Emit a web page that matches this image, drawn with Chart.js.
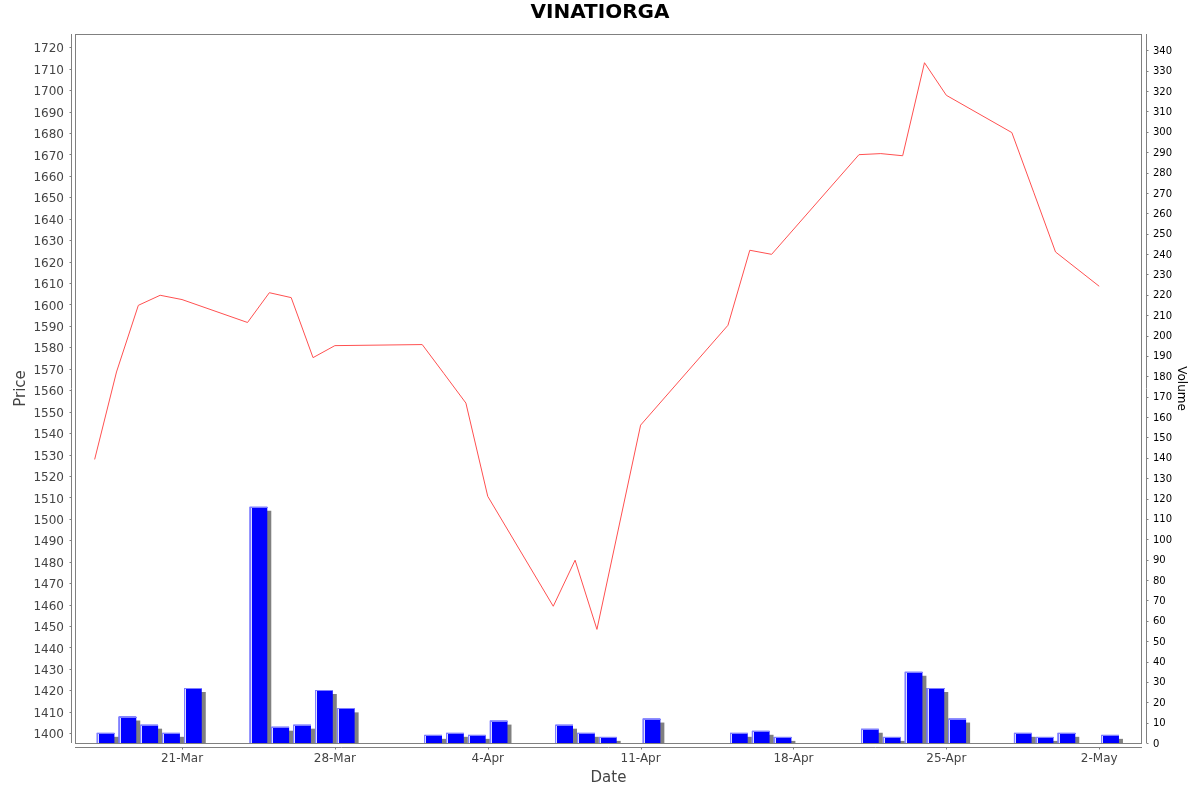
<!DOCTYPE html>
<html>
<head>
<meta charset="utf-8">
<title>VINATIORGA</title>
<script src="https://cdn.jsdelivr.net/npm/chart.js@4.4.1/dist/chart.umd.min.js"></script>
<style>
  html, body { margin: 0; padding: 0; background: #fff; }
  #wrap { width: 1200px; height: 792px; }
</style>
</head>
<body>
<div id="wrap"><canvas id="myChart" width="1200" height="792"></canvas></div>
<script>
// trading days
const dates = [
    '2025-03-17', '2025-03-18', '2025-03-19', '2025-03-20', '2025-03-21',
    '2025-03-24', '2025-03-25', '2025-03-26', '2025-03-27', '2025-03-28',
    '2025-04-01', '2025-04-02', '2025-04-03', '2025-04-04',
    '2025-04-07', '2025-04-08', '2025-04-09', '2025-04-11',
    '2025-04-15', '2025-04-16', '2025-04-17',
    '2025-04-21', '2025-04-22', '2025-04-23', '2025-04-24', '2025-04-25',
    '2025-04-28', '2025-04-29', '2025-04-30', '2025-05-02'
];

// closing price
const prices = [
    1527.7, 1568.5, 1599.6, 1604.3, 1602.3,
    1591.6, 1605.5, 1603.2, 1575.2, 1580.8,
    1581.3, 1567.7, 1554.0, 1510.5,
    1459.2, 1480.7, 1448.4, 1543.7,
    1590.3, 1625.3, 1623.4,
    1669.9, 1670.4, 1669.4, 1712.8, 1697.6,
    1680.2, 1652.4, 1624.5, 1608.5
];

// volume
const volumes = [
    5, 13, 9, 5, 27,
    116, 8, 9, 26, 17,
    4, 5, 4, 11,
    9, 5, 3, 12,
    5, 6, 3,
    7, 3, 35, 27, 12,
    5, 3, 5, 4
];

const tickDates = ['2025-03-21', '2025-03-28', '2025-04-04', '2025-04-11', '2025-04-18', '2025-04-25', '2025-05-02'];
const tickLabels = ['21-Mar', '28-Mar', '4-Apr', '11-Apr', '18-Apr', '25-Apr', '2-May'];

function dayNum(s) {
    return Date.parse(s + 'T00:00:00Z') / 86400000;
}

const AXIS_GRAY = '#808080';

// sombra, brilho das barras e eixos deslocados
const framePlugin = {
    id: 'frame',
    beforeDatasetDraw(chart, args) {
        if (args.meta.type !== 'bar') return;
        const ctx = chart.ctx;
        ctx.save();
        ctx.shadowColor = AXIS_GRAY;
        ctx.shadowOffsetX = 4;
        ctx.shadowOffsetY = 4;
        ctx.shadowBlur = 0;
    },
    afterDatasetDraw(chart, args) {
        if (args.meta.type !== 'bar') return;
        const ctx = chart.ctx;
        ctx.restore();
        ctx.save();
        args.meta.data.forEach(bar => {
            const p = bar.getProps(['x', 'y', 'base', 'width'], true);
            const left = Math.round(p.x - p.width / 2);
            const top = Math.round(p.y);
            const h = p.base - top;
            ctx.fillStyle = '#7f7fff';
            ctx.fillRect(left, top, 1, h);
            ctx.fillRect(left, top, Math.round(p.width), 1);
            ctx.fillStyle = '#dcdcff';
            ctx.fillRect(left + 1, top + 1, 1, h - 1);
        });
        ctx.restore();
    },
    afterDraw(chart) {
        const ctx = chart.ctx;
        const ca = chart.chartArea;
        ctx.save();
        ctx.strokeStyle = AXIS_GRAY;
        ctx.lineWidth = 1;

        ctx.strokeRect(ca.left + 0.5, ca.top + 0.5, ca.right - ca.left - 1, ca.bottom - ca.top);

        const lx = ca.left - 4 + 0.5;
        const rx = ca.right + 4 + 0.5;
        const by = ca.bottom + 4 + 0.5;

        ctx.beginPath();
        ctx.moveTo(lx, ca.top);
        ctx.lineTo(lx, ca.bottom);
        ctx.moveTo(rx, ca.top);
        ctx.lineTo(rx, ca.bottom);
        ctx.moveTo(ca.left, by);
        ctx.lineTo(ca.right, by);

        const y = chart.scales.y;
        y.ticks.forEach(t => {
            const py = Math.round(y.getPixelForValue(t.value)) + 0.5;
            ctx.moveTo(lx - 2, py);
            ctx.lineTo(lx, py);
        });
        const y1 = chart.scales.y1;
        y1.ticks.forEach(t => {
            const py = Math.round(y1.getPixelForValue(t.value)) + 0.5;
            ctx.moveTo(rx, py);
            ctx.lineTo(rx + 2, py);
        });
        const x = chart.scales.x;
        x.ticks.forEach(t => {
            const px = Math.round(x.getPixelForValue(t.value)) + 0.5;
            ctx.moveTo(px, by);
            ctx.lineTo(px, by + 2);
        });
        ctx.stroke();
        ctx.restore();
    }
};

Chart.defaults.font.family = '"DejaVu Sans", sans-serif';

const config = {
    type: 'bar',
    data: {
        datasets: [
            {
                type: 'line',
                label: 'Price',
                data: dates.map((d, i) => ({ x: dayNum(d), y: prices[i] })),
                yAxisID: 'y',
                borderColor: '#ff5050',
                borderWidth: 1,
                pointRadius: 0,
                tension: 0,
                fill: false,
                order: 0
            },
            {
                type: 'bar',
                label: 'Volume',
                data: dates.map((d, i) => ({ x: dayNum(d) + 0.5, y: volumes[i] })),
                yAxisID: 'y1',
                backgroundColor: '#0000ff',
                borderWidth: 0,
                barPercentage: 0.81,
                categoryPercentage: 1,
                clip: 0,
                order: 1
            }
        ]
    },
    options: {
        responsive: false,
        animation: false,
        devicePixelRatio: 1,
        layout: { padding: 0 },
        plugins: {
            legend: { display: false },
            tooltip: { enabled: false },
            title: {
                display: true,
                text: 'VINATIORGA',
                color: '#000',
                font: { size: 20, weight: 'bold' },
                padding: { top: 1, bottom: 9 }
            }
        },
        scales: {
            x: {
                type: 'linear',
                position: 'bottom',
                offset: false,
                min: dayNum(dates[0]) - 0.9,
                max: dayNum(dates[dates.length - 1]) + 1.96,
                grid: { display: false, drawTicks: false },
                border: { display: false },
                afterBuildTicks: scale => {
                    scale.ticks = tickDates.map(d => ({ value: dayNum(d) }));
                },
                afterFit: scale => { scale.height = 49; },
                ticks: {
                    autoSkip: false,
                    maxRotation: 0,
                    padding: 9,
                    color: '#444',
                    font: { size: 12 },
                    callback: (value, index) => tickLabels[index]
                },
                title: {
                    display: true,
                    text: 'Date',
                    color: '#444',
                    font: { size: 15 },
                    padding: { top: 0, bottom: 5 }
                }
            },
            y: {
                type: 'linear',
                position: 'left',
                min: 1395.4,
                max: 1726.2,
                grid: { display: false, drawTicks: false },
                border: { display: false },
                afterFit: scale => { scale.width = 75; },
                ticks: {
                    stepSize: 10,
                    autoSkip: false,
                    includeBounds: false,
                    padding: 11,
                    labelOffset: 2,
                    color: '#444',
                    font: { size: 12 },
                    callback: value => String(value)
                },
                title: {
                    display: true,
                    text: 'Price',
                    color: '#444',
                    font: { size: 15 },
                    padding: { top: 12, bottom: 0 }
                }
            },
            y1: {
                type: 'linear',
                position: 'right',
                min: 0,
                max: 348,
                grid: { display: false, drawTicks: false },
                border: { display: false },
                afterFit: scale => { scale.width = 58; },
                ticks: {
                    stepSize: 10,
                    autoSkip: false,
                    includeBounds: false,
                    padding: 11,
                    labelOffset: 1,
                    color: '#000',
                    font: { size: 10 }
                },
                title: {
                    display: true,
                    text: 'Volume',
                    color: '#000',
                    font: { size: 12 },
                    padding: { top: 12, bottom: 0 }
                }
            }
        }
    },
    plugins: [framePlugin]
};

const ctx = document.getElementById('myChart');
const myChart = new Chart(ctx, config);
</script>
</body>
</html>
